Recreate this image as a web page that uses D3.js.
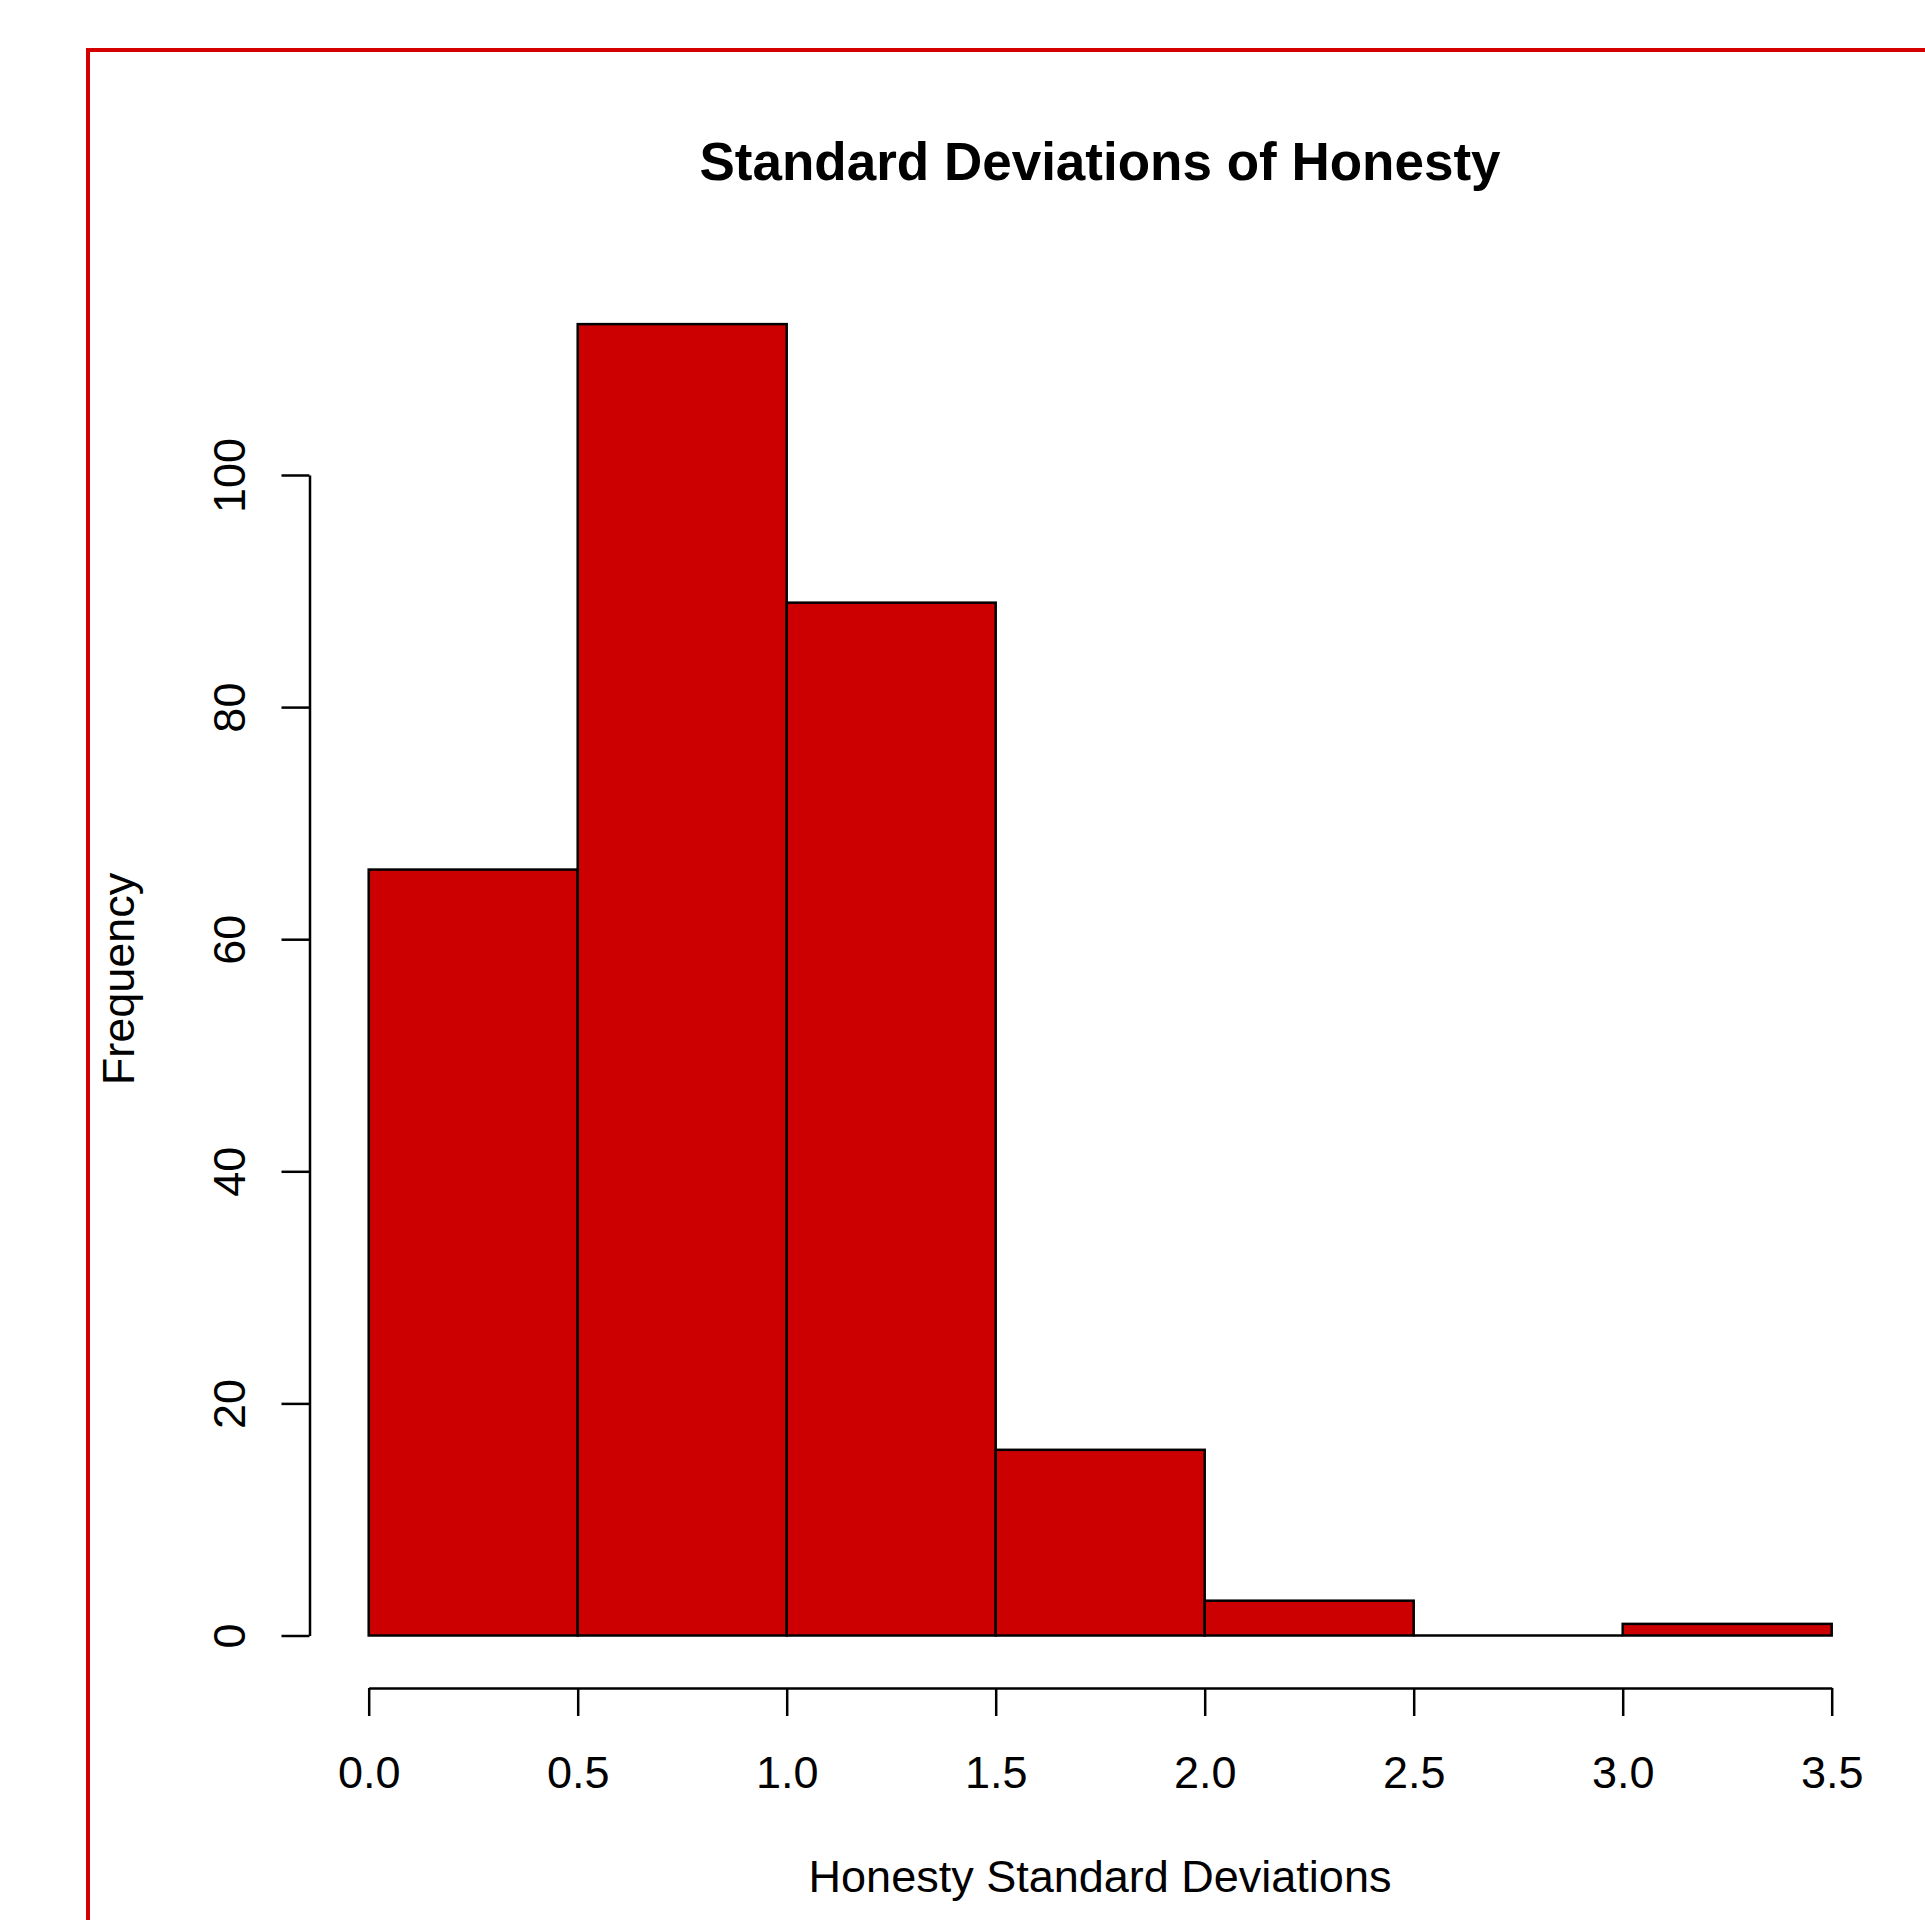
<!DOCTYPE html>
<html>
<head>
<meta charset="utf-8">
<script src="https://cdn.jsdelivr.net/npm/d3@7"></script>
<style>
  body { margin: 0; background: #fff; }
  svg { display: block; font-family: "Liberation Sans", Arial, Helvetica, sans-serif; }
</style>
</head>
<body>
<div id="chart"></div>
<script>
// histogram bins (bin edges) and counts
var breaks = [0.0, 0.5, 1.0, 1.5, 2.0, 2.5, 3.0, 3.5];
var counts = [66, 113, 89, 16, 3, 0, 1];
var xTicks = [0.0, 0.5, 1.0, 1.5, 2.0, 2.5, 3.0, 3.5];
var yTicks = [0, 20, 40, 60, 80, 100];

var titleText = "Standard Deviations of Honesty";
var xLabel = "Honesty Standard Deviations";
var yLabel = "Frequency";

var width = 1925, height = 1920;
var labelSize = 45;

var bins = counts.map(function (c, i) {
    return { x0: breaks[i], x1: breaks[i + 1], count: c };
});

var svg = d3.select("#chart")
    .append("svg")
    .attr("width", width)
    .attr("height", height);

// red frame (runs off the right and bottom edges)
svg.append("rect")
    .attr("x", 88)
    .attr("y", 50)
    .attr("width", 2000)
    .attr("height", 2000)
    .attr("fill", "none")
    .attr("stroke", "#d40000")
    .attr("stroke-width", 4);

var x = d3.scaleLinear().domain([0, 3.5]).range([368.7, 1831.7]);
var y = d3.scaleLinear().domain([0, 100]).range([1635.5, 475]);

// bars
svg.append("g")
    .selectAll("rect")
    .data(bins)
    .enter()
    .filter(d => d.count > 0)
    .append("rect")
    .attr("x", d => x(d.x0))
    .attr("y", d => y(d.count))
    .attr("width", d => x(d.x1) - x(d.x0))
    .attr("height", d => y(0) - y(d.count))
    .attr("fill", "#cc0000")
    .attr("stroke", "#000")
    .attr("stroke-width", 2.5);

// empty bin still shows its baseline
svg.append("g")
    .selectAll("line")
    .data(bins.filter(d => d.count === 0))
    .enter()
    .append("line")
    .attr("x1", d => x(d.x0))
    .attr("x2", d => x(d.x1))
    .attr("y1", y(0))
    .attr("y2", y(0))
    .attr("stroke", "#000")
    .attr("stroke-width", 2.5);

// x axis, offset below the plot like R
var xAxis = d3.axisBottom(x)
    .tickValues(xTicks)
    .tickFormat(d3.format(".1f"))
    .tickSize(28)
    .tickSizeOuter(0);

var gx = svg.append("g")
    .attr("transform", "translate(0,1688)")
    .call(xAxis);
gx.select(".domain").attr("stroke-width", 2.5);
gx.selectAll(".tick line").attr("stroke-width", 2.5);
gx.selectAll(".tick text")
    .attr("font-size", labelSize)
    .attr("font-family", "Liberation Sans, Arial, sans-serif")
    .attr("fill", "#000")
    .attr("y", 100)
    .attr("dy", null);

// y axis
var yAxis = d3.axisLeft(y)
    .tickValues(yTicks)
    .tickSize(28)
    .tickSizeOuter(0);

var gy = svg.append("g")
    .attr("transform", "translate(309.5,0)")
    .call(yAxis);
gy.select(".domain").attr("stroke-width", 2.5);
gy.selectAll(".tick line").attr("stroke-width", 2.5);
// R draws the y labels rotated, reading upward
gy.selectAll(".tick text")
    .attr("font-size", labelSize)
    .attr("font-family", "Liberation Sans, Arial, sans-serif")
    .attr("fill", "#000")
    .attr("x", null)
    .attr("dy", null)
    .attr("text-anchor", "middle")
    .attr("transform", "translate(-64.5,0) rotate(-90)");

// titles
svg.append("text")
    .attr("x", 1100)
    .attr("y", 180)
    .attr("text-anchor", "middle")
    .attr("font-size", 53)
    .attr("font-weight", "bold")
    .text(titleText);

svg.append("text")
    .attr("x", 1100)
    .attr("y", 1892)
    .attr("text-anchor", "middle")
    .attr("font-size", labelSize)
    .text(xLabel);

svg.append("text")
    .attr("transform", "translate(134,979) rotate(-90)")
    .attr("text-anchor", "middle")
    .attr("font-size", labelSize)
    .text(yLabel);
</script>
</body>
</html>
